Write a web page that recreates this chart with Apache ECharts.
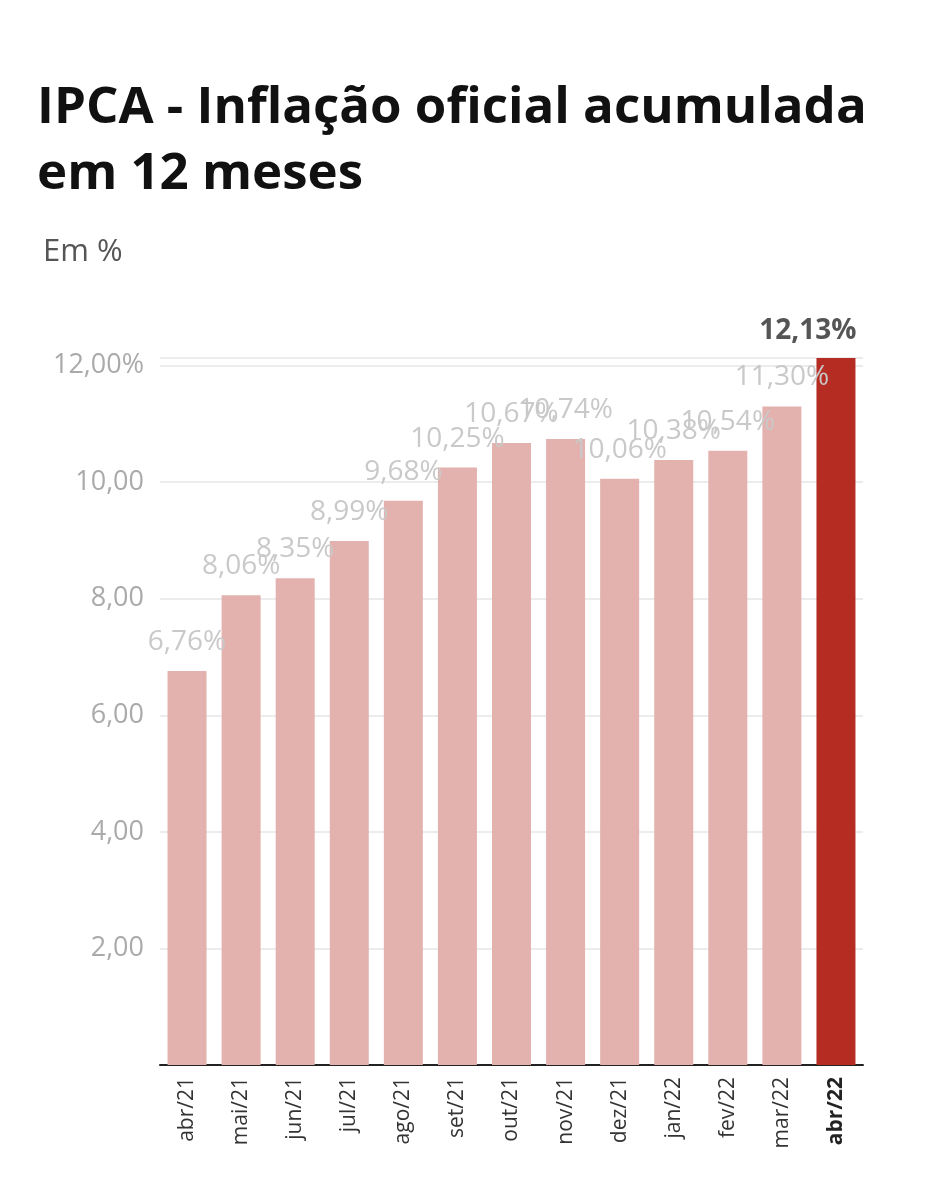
<!DOCTYPE html>
<html><head><meta charset="utf-8">
<script src="https://cdn.jsdelivr.net/npm/echarts@6/dist/echarts.min.js"></script>
<style>html,body{margin:0;padding:0;background:#fff}#c{width:929px;height:1200px}</style>
</head><body><div id="c"></div>
<script>
const categories=['abr/21','mai/21','jun/21','jul/21','ago/21','set/21','out/21','nov/21','dez/21','jan/22','fev/22','mar/22','abr/22'];
const values=[6.76,8.06,8.35,8.99,9.68,10.25,10.67,10.74,10.06,10.38,10.54,11.30,12.13];
const yTicks=[2,4,6,8,10,12];
const fmt=v=>v.toFixed(2).replace('.',',');
const data=values.map((v,i)=>{
  const last=i===values.length-1;
  return {value:v,itemStyle:{color:last?'#b52d22':'#e3b1ae'},
    label:last?{show:true,position:'top',formatter:fmt(v)+'%',color:'#555',fontWeight:'bold',fontSize:28,offset:[-28,-8],fontFamily:'Open Sans'}:
    {show:true,position:'top',formatter:fmt(v)+'%',color:'#c9c9c9',fontSize:28,offset:[0,-10],fontFamily:'Open Sans'}};
});
const chart=echarts.init(document.getElementById('c'));
chart.setOption({
  animation:false,
  title:[{text:'IPCA - Inflação oficial acumulada\nem 12 meses',left:32,top:70,textStyle:{fontSize:51,fontWeight:'bold',color:'#111',lineHeight:66,fontFamily:'Open Sans'}},
         {text:'Em %',left:38,top:232,textStyle:{fontSize:31,fontWeight:'normal',color:'#555',fontFamily:'Open Sans'}}],
  grid:{left:160,right:66,top:358,bottom:135},
  xAxis:{type:'category',data:categories,axisTick:{show:false},
    axisLine:{lineStyle:{color:'#222',width:2}},
    axisLabel:{rotate:90,fontSize:21,color:'#333',fontFamily:'Open Sans',margin:12,
      formatter:(v,i)=>i===categories.length-1?'{b|'+v+'}':v,rich:{b:{fontWeight:'bold',fontSize:21,color:'#222'}}}},
  yAxis:{type:'value',min:0,max:12.13,interval:2,
    splitLine:{lineStyle:{color:'#e6e6e6',width:1.5}},
    axisLabel:{fontSize:27,color:'#aaa',fontFamily:'Open Sans',margin:16,showMaxLabel:false,
      formatter:v=>v===0?'':(v===12?fmt(v)+'%':fmt(v))}},
  series:[{type:'bar',data:data,barWidth:39}]
});
</script></body></html>
